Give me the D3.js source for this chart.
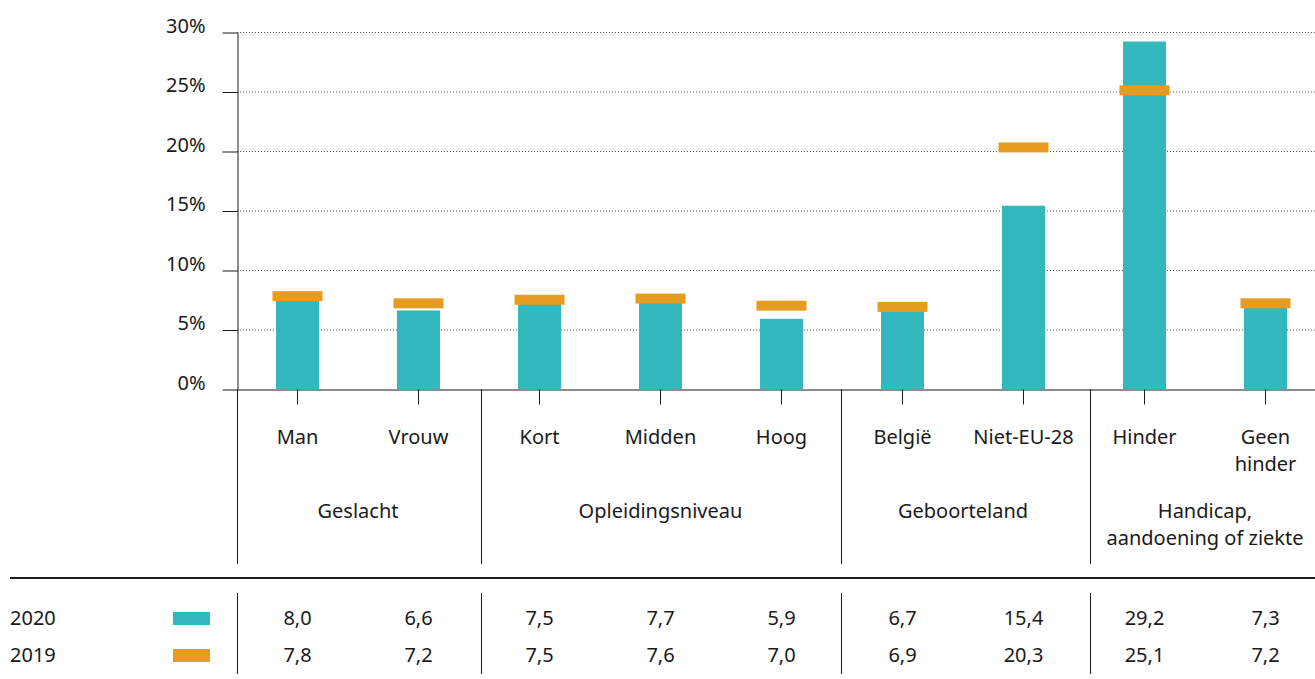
<!DOCTYPE html>
<html>
<head>
<meta charset="utf-8">
<script src="https://cdn.jsdelivr.net/npm/d3@7"></script>
<style>
  html, body { margin: 0; padding: 0; background: #fff; }
  svg { display: block; }
  text { font-family: "Noto Sans", "Open Sans", sans-serif; fill: #1a1a1a; }
</style>
</head>
<body>
<svg id="chart" width="1315" height="679"></svg>
<script>
// ---- data ----
const categories = ["Man", "Vrouw", "Kort", "Midden", "Hoog", "België", "Niet-EU-28", "Hinder", "Geen hinder"];
const categoryLines = [["Man"], ["Vrouw"], ["Kort"], ["Midden"], ["Hoog"], ["België"], ["Niet-EU-28"], ["Hinder"], ["Geen", "hinder"]];
const values2020 = [8.0, 6.6, 7.5, 7.7, 5.9, 6.7, 15.4, 29.2, 7.3];
const values2019 = [7.8, 7.2, 7.5, 7.6, 7.0, 6.9, 20.3, 25.1, 7.2];
const groupNames = [["Geslacht"], ["Opleidingsniveau"], ["Geboorteland"], ["Handicap,", "aandoening of ziekte"]];
const groupSizes = [2, 3, 2, 2];
const seriesNames = ["2020", "2019"];
const yTicks = [0, 5, 10, 15, 20, 25, 30];

// ---- layout ----
const W = 1315, H = 679;
const left = 237, step = 121;
// separator nudges (px) relative to band boundaries, after the first
const sepNudge = [0, 2, -1, 5.5];
const teal = "#33b8bd", orange = "#e69c20";
const svg = d3.select("#chart");

const x = d3.scaleBand().domain(categories).range([left, left + step * categories.length]).padding(0);
const y = d3.scaleLinear().domain([0, 30]).range([389, 32]);
const cx = c => x(c) + x.bandwidth() / 2;
const barW = 43, markW = 50, markH = 10;
const fmt = v => d3.format(".1f")(v).replace(".", ",");

// gridlines
svg.append("g").selectAll("line").data(yTicks.filter(t => t > 0)).join("line")
  .attr("x1", left).attr("x2", W)
  .attr("y1", d => y(d) + 0.5).attr("y2", d => y(d) + 0.5)
  .attr("stroke", "#555").attr("stroke-width", 1).attr("stroke-dasharray", "1,2");

// bars 2020
svg.append("g").selectAll("rect").data(categories).join("rect")
  .attr("x", (d) => cx(d) - barW / 2)
  .attr("width", barW)
  .attr("y", (d, i) => y(values2020[i]))
  .attr("height", (d, i) => y(0) - y(values2020[i]))
  .attr("fill", teal);

// markers 2019
svg.append("g").selectAll("rect").data(categories).join("rect")
  .attr("x", (d) => cx(d) - markW / 2)
  .attr("width", markW)
  .attr("y", (d, i) => y(values2019[i]) - markH / 2)
  .attr("height", markH)
  .attr("fill", orange);

// y axis
const yAxis = svg.append("g").attr("transform", `translate(${left + 0.5},0)`)
  .call(d3.axisLeft(y).tickValues(yTicks).tickFormat(d => d + "%").tickSize(15).tickSizeOuter(0).tickPadding(17));
yAxis.select(".domain").attr("stroke", "#1a1a1a");
yAxis.selectAll(".tick line").attr("stroke", "#1a1a1a").attr("transform", "translate(0,0.5)");
yAxis.selectAll(".tick text").attr("dy", "0").attr("font-size", 20).attr("fill", "#1a1a1a")
  .style("font-family", '"Noto Sans", sans-serif');

// x axis
const xAxis = svg.append("g").attr("transform", `translate(0,${y(0) + 0.5})`)
  .call(d3.axisBottom(x).tickSize(15).tickSizeOuter(0).tickFormat(""));
xAxis.select(".domain").attr("stroke", "#1a1a1a");
xAxis.selectAll(".tick line").attr("stroke", "#1a1a1a");

// category labels
const catG = svg.append("g");
categories.forEach((c, i) => {
  const t = catG.append("text").attr("x", cx(c)).attr("y", 444).attr("text-anchor", "middle").attr("font-size", 20);
  categoryLines[i].forEach((ln, j) => t.append("tspan").attr("x", cx(c)).attr("dy", j === 0 ? 0 : 27).text(ln));
});

// group separators and labels
let idx = 0;
const sepXs = [left];
groupSizes.forEach((n, gi) => {
  const first = categories[idx], last = categories[idx + n - 1];
  const gx = (cx(first) + cx(last)) / 2;
  const t = svg.append("text").attr("x", gx).attr("y", 518).attr("text-anchor", "middle").attr("font-size", 20);
  groupNames[gi].forEach((ln, j) => t.append("tspan").attr("x", gx).attr("dy", j === 0 ? 0 : 27).text(ln));
  idx += n;
  if (idx < categories.length) sepXs.push(x(categories[idx]) + sepNudge[sepXs.length]);
});
svg.append("g").selectAll("line").data(sepXs).join("line")
  .attr("x1", d => Math.round(d) + 0.5).attr("x2", d => Math.round(d) + 0.5)
  .attr("y1", y(0)).attr("y2", 564)
  .attr("stroke", "#1a1a1a").attr("stroke-width", 1);

// table
svg.append("line").attr("x1", 10).attr("x2", W).attr("y1", 578).attr("y2", 578)
  .attr("stroke", "#1a1a1a").attr("stroke-width", 2);
svg.append("g").selectAll("line").data(sepXs).join("line")
  .attr("x1", d => Math.round(d) + 0.5).attr("x2", d => Math.round(d) + 0.5)
  .attr("y1", 593).attr("y2", 674)
  .attr("stroke", "#1a1a1a").attr("stroke-width", 1);

const rows = [values2020, values2019];
const rowY = [625, 662];
const swatchColors = [teal, orange];
rows.forEach((vals, r) => {
  svg.append("text").attr("x", 10).attr("y", rowY[r]).attr("font-size", 20).text(seriesNames[r]);
  svg.append("rect").attr("x", 173).attr("y", rowY[r] - 13).attr("width", 37).attr("height", 13).attr("fill", swatchColors[r]);
  svg.append("g").selectAll("text").data(categories).join("text")
    .attr("x", d => cx(d)).attr("y", rowY[r]).attr("text-anchor", "middle").attr("font-size", 20)
    .text((d, i) => fmt(vals[i]));
});
</script>
</body>
</html>
